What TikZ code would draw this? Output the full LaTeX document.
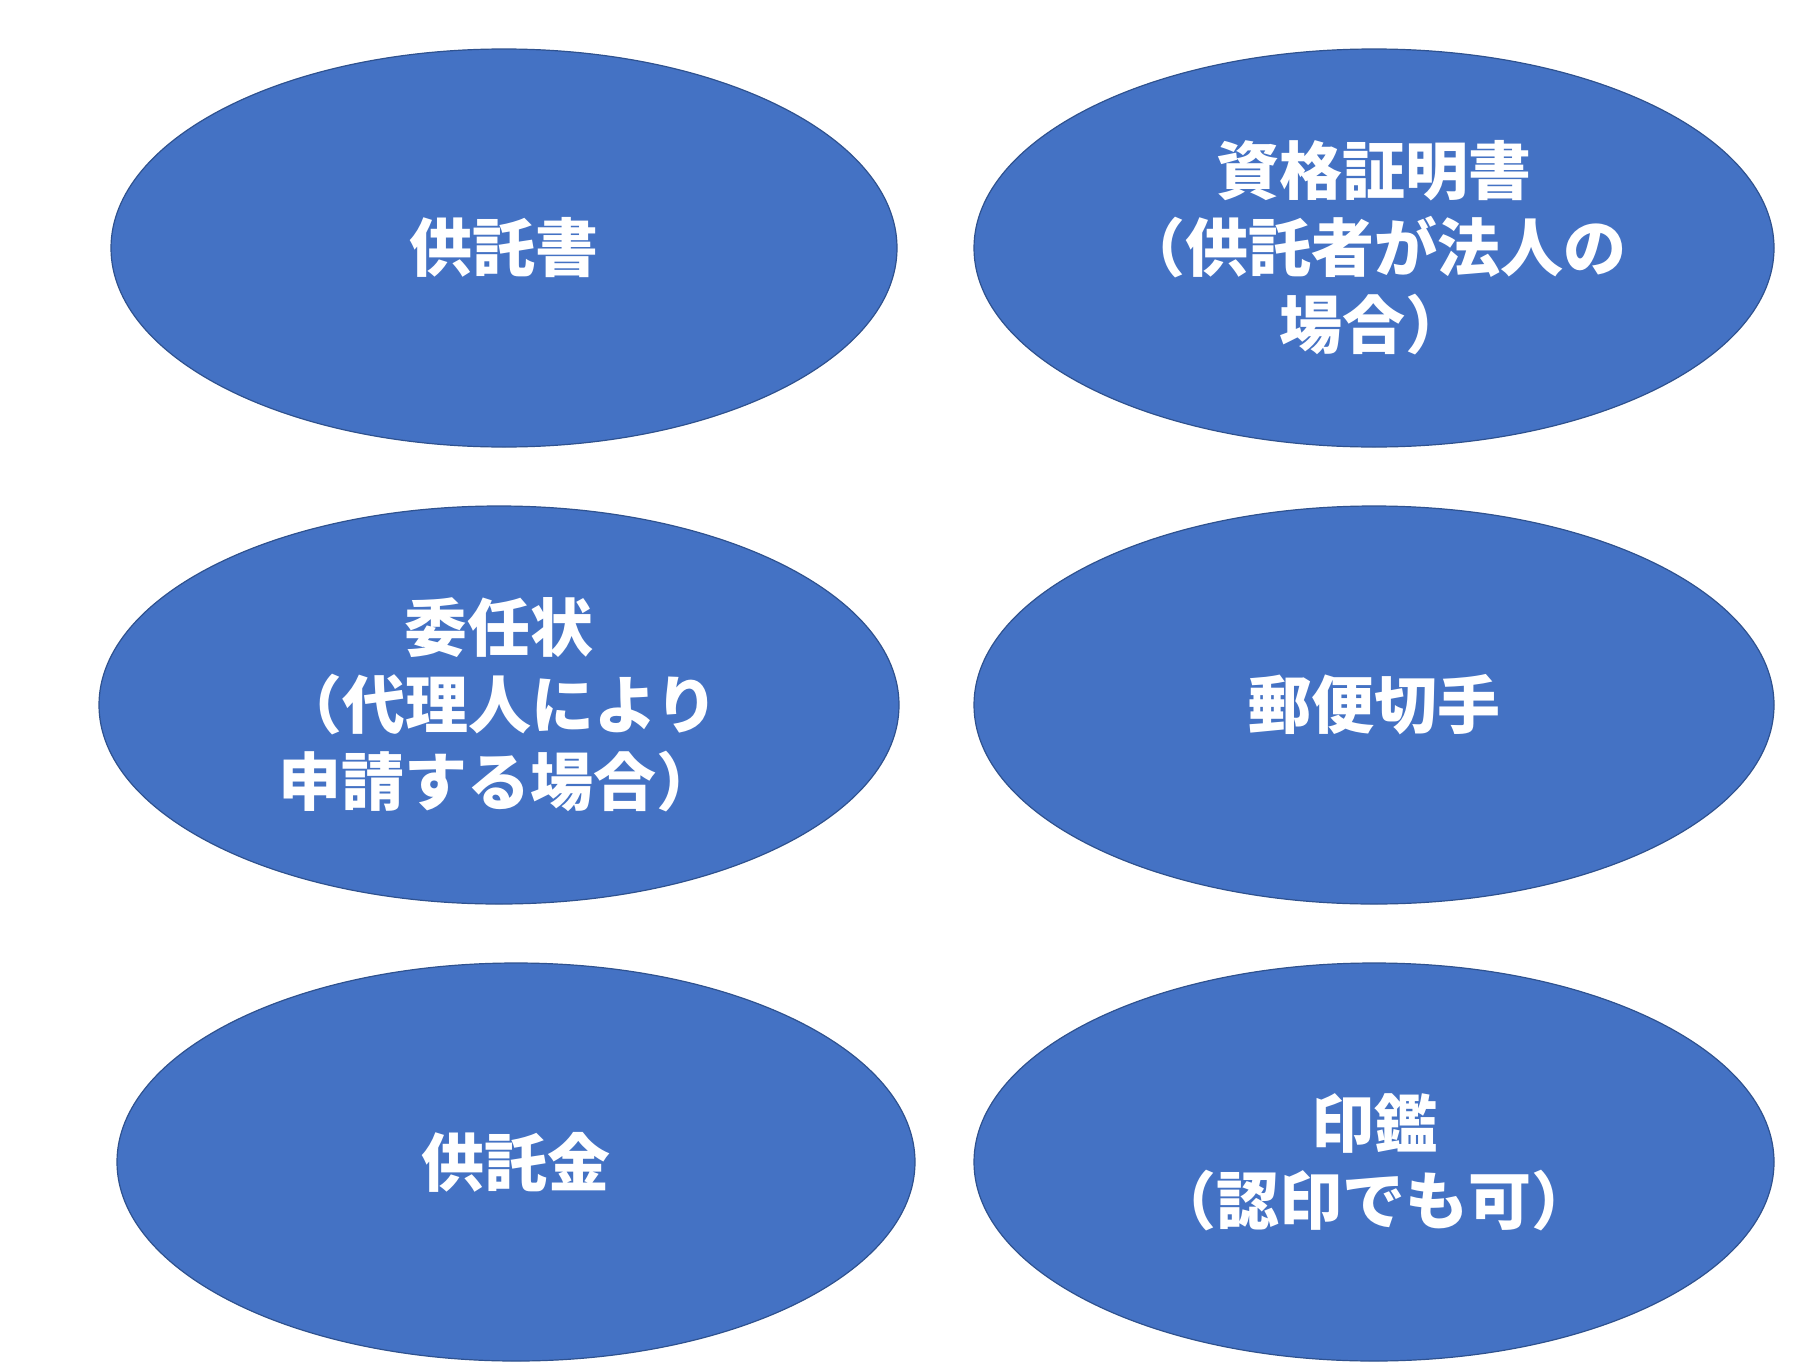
\documentclass[tikz,border=0pt]{standalone}
\usepackage{fontspec}
\newfontfamily\jpfont{Noto Sans CJK JP}
\usetikzlibrary{shapes.geometric}
\definecolor{ofblue}{HTML}{4472C4}
\definecolor{ofedge}{HTML}{2F528F}
\tikzset{
  item/.style={ellipse, fill=ofblue, draw=ofedge, line width=0.6pt, inner sep=0pt,
    text=white, align=center,
    font=\jpfont\bfseries\fontsize{31.5}{38.5}\selectfont}
}
\begin{document}
\begin{tikzpicture}[x=0.5pt,y=-0.5pt]
\useasboundingbox (0,0) rectangle (1820,1365);
\node[item, minimum width=393pt, minimum height=199pt] (a) at (504,248) {供託書};
\node[item, minimum width=400pt, minimum height=199pt] (b) at (1374,248) {資格証明書\\（供託者が法人の\\場合）};
\node[item, minimum width=400pt, minimum height=199pt] (c) at (499,705) {委任状\\（代理人により\\申請する場合）};
\node[item, minimum width=400pt, minimum height=199pt] (d) at (1374,705) {郵便切手};
\node[item, minimum width=399pt, minimum height=199pt] (e) at (516,1162) {供託金};
\node[item, minimum width=400pt, minimum height=199pt] (f) at (1374,1162) {印鑑\\（認印でも可）};
\end{tikzpicture}
\end{document}
